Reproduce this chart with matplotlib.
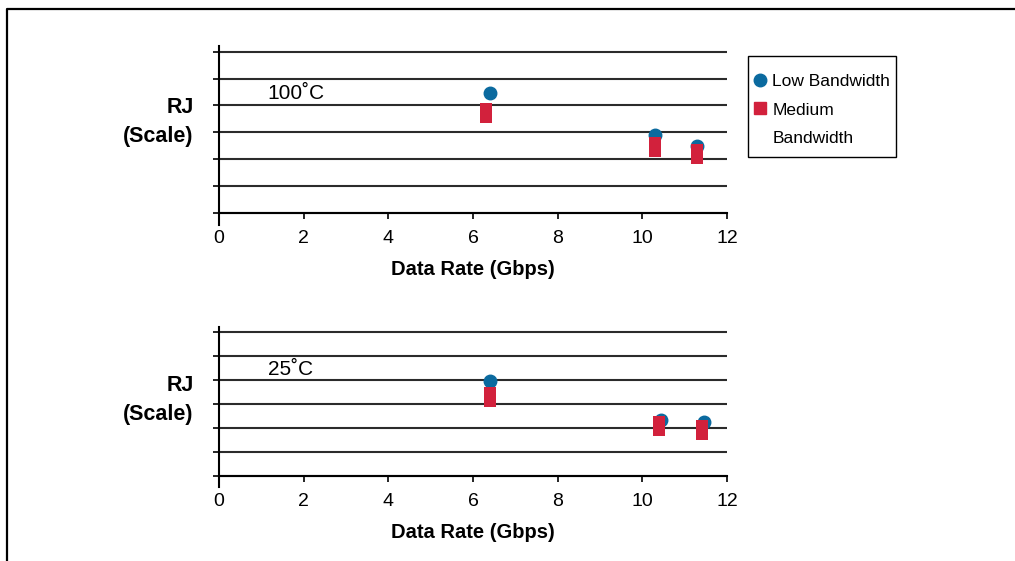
import matplotlib
matplotlib.use("Agg")
import matplotlib.pyplot as plt
from matplotlib.lines import Line2D
from matplotlib.patches import Rectangle

plt.rcParams['font.family'] = ['Liberation Sans', 'DejaVu Sans']

# data (RJ in arbitrary scale units, 0..6)
panels = ["100˚C", "25˚C"]
low_rate = [[6.4, 10.3, 11.3], [6.4, 10.45, 11.45]]
low_rj = [[4.48, 2.90, 2.48], [3.96, 2.34, 2.27]]
med_rate = [[6.3, 10.3, 11.3], [6.4, 10.4, 11.4]]
med_rj = [[3.73, 2.45, 2.18], [3.29, 2.09, 1.92]]
x_ticks = [0, 2, 4, 6, 8, 10, 12]
y_grid = [0, 1, 2, 3, 4, 5, 6]

BLUE = "#0b6a9f"
RED = "#d2213c"
GRID = "#2b2b2b"

# tall rectangle marker for the medium bandwidth points
tall_rect = [(-6, -11), (6, -11), (6, 11), (-6, 11), (-6, -11)]

fig = plt.figure(figsize=(10.15, 5.61), dpi=100)

# axes boxes in figure fractions: left, bottom, width, height
boxes = [
    [219 / 1015, 1 - 225 / 561, 508 / 1015, (225 - 46) / 561],
    [219 / 1015, 1 - 487 / 561, 508 / 1015, (487 - 327) / 561],
]
rj_pos = [0.575, 0.545]

for i, box in enumerate(boxes):
    ax = fig.add_axes(box)
    for y in y_grid:
        ax.axhline(y, color=GRID, lw=1.5, zorder=1)
    ax.plot(low_rate[i], low_rj[i], linestyle="none", marker="o",
            markersize=9, color=BLUE, zorder=3)
    ax.plot(med_rate[i], med_rj[i], linestyle="none", marker=tall_rect,
            markersize=15, color=RED, markeredgewidth=0, zorder=4)

    ax.set_xlim(0, 12)
    ax.set_ylim(-0.46, 6.22)
    ax.spines['top'].set_visible(False)
    ax.spines['right'].set_visible(False)
    ax.spines['bottom'].set_position(('data', 0))
    ax.spines['bottom'].set_linewidth(1.5)
    ax.spines['left'].set_linewidth(1.5)
    ax.set_xticks(x_ticks)
    ax.set_xticklabels([str(t) for t in x_ticks])
    ax.set_yticks(y_grid)
    ax.set_yticklabels([])
    ax.tick_params(axis='x', direction='out', length=4.5, width=1.2,
                   labelsize=14, pad=8)
    ax.tick_params(axis='y', direction='out', length=4.5, width=1.2)
    ax.patch.set_visible(False)

    ax.set_xlabel("Data Rate (Gbps)", fontsize=14.5, fontweight='bold',
                  labelpad=9)
    ax.text(1.15, 4.45, panels[i], fontsize=15, va='center', ha='left')

    # y label, right aligned just left of the axis
    ax.text(-0.05, rj_pos[i], "RJ\n(Scale)", transform=ax.transAxes,
            ha='right', va='center', fontsize=15.5, fontweight='bold',
            multialignment='right', linespacing=1.5)

# legend: frame drawn separately so the padding can differ per side
fig.add_artist(Rectangle((748 / 1015, 1 - 157 / 561), 148 / 1015, 101 / 561,
                         fill=False, edgecolor='black', lw=1.0,
                         transform=fig.transFigure))
handles = [
    Line2D([], [], linestyle="none", marker="o", markersize=9, color=BLUE),
    Line2D([], [], linestyle="none", marker="s", markersize=9, color=RED),
    Line2D([], [], linestyle="none"),
]
labels = ["Low Bandwidth", "Medium", "Bandwidth"]
leg = fig.legend(handles, labels, loc='center left',
                 bbox_to_anchor=(754 / 1015, 1 - 110 / 561),
                 frameon=False, fontsize=12.5, handlelength=0.7,
                 handletextpad=0.35, labelspacing=0.75, borderpad=0,
                 borderaxespad=0)

# outer frame (top and left edges)
fx = 6.5 / 1015
fy = 1 - 8.5 / 561
fig.add_artist(Line2D([fx, fx, 1.0], [0.0, fy, fy], color='black', lw=1.6,
                      transform=fig.transFigure))

fig.savefig("out.png", dpi=100)
